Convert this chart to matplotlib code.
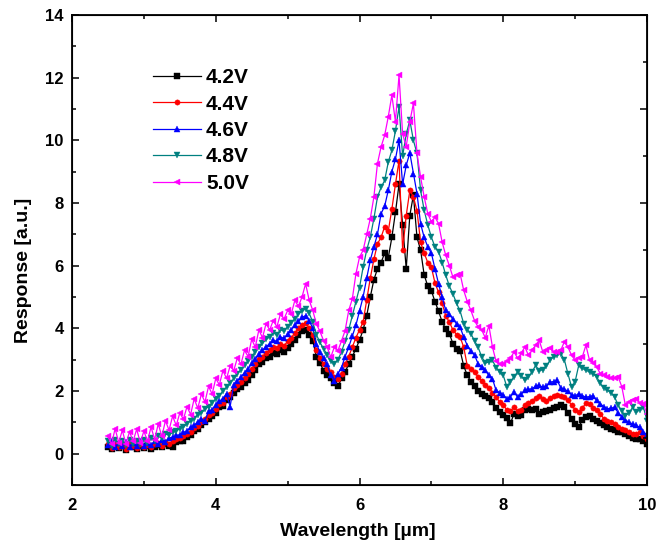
import numpy as np
import matplotlib
matplotlib.use("Agg")
import matplotlib.pyplot as plt
from matplotlib.ticker import MultipleLocator

plt.rcParams['font.family'] = ['Liberation Sans', 'DejaVu Sans']
plt.rcParams['font.weight'] = 'bold'

# Wavelength grid (µm), 0.05 µm step from 2.5 to 10.0
wavelength = np.round(np.arange(2.5, 10.0001, 0.05), 2)

resp_42 = [
    0.22, 0.15, 0.30, 0.18, 0.25, 0.12, 0.28, 0.20, 0.14, 0.26,
    0.18, 0.24, 0.15, 0.22, 0.28, 0.20, 0.30, 0.25, 0.22, 0.38,
    0.42, 0.40, 0.52, 0.60, 0.72, 0.78, 0.92, 1.00, 1.12, 1.20,
    1.30, 1.48, 1.52, 1.70, 1.80, 1.95, 2.05, 2.12, 2.25, 2.35,
    2.52, 2.68, 2.85, 2.92, 3.05, 3.10, 3.22, 3.18, 3.30, 3.25,
    3.38, 3.50, 3.62, 3.80, 3.90, 3.95, 3.80, 3.60, 3.10, 2.90,
    2.65, 2.52, 2.42, 2.25, 2.15, 2.40, 2.62, 2.85, 3.10, 3.35,
    3.62, 3.95, 4.40, 5.00, 5.55, 5.90, 6.10, 6.40, 6.25, 6.90,
    7.70, 8.60, 7.30, 5.90, 7.60, 8.25, 6.90, 6.50, 5.70, 5.35,
    5.20, 4.85, 4.55, 4.20, 3.98, 3.83, 3.51, 3.35, 3.29, 2.80,
    2.50, 2.30, 2.15, 2.00, 1.92, 1.85, 1.78, 1.65, 1.45, 1.32,
    1.25, 1.15, 0.97, 1.27, 1.20, 1.22, 1.40, 1.43, 1.38, 1.42,
    1.28, 1.32, 1.37, 1.40, 1.45, 1.50, 1.55, 1.48, 1.30, 1.12,
    0.95, 0.84, 1.08, 1.18, 1.20, 1.12, 1.05, 0.97, 0.90, 0.84,
    0.78, 0.74, 0.70, 0.68, 0.62, 0.57, 0.50, 0.47, 0.48, 0.42,
    0.32,
]

resp_44 = [
    0.30, 0.18, 0.35, 0.22, 0.30, 0.16, 0.32, 0.24, 0.18, 0.30,
    0.22, 0.28, 0.20, 0.30, 0.34, 0.26, 0.36, 0.32, 0.40, 0.48,
    0.50, 0.55, 0.62, 0.70, 0.82, 0.88, 1.02, 1.10, 1.22, 1.30,
    1.42, 1.58, 1.62, 1.82, 1.90, 2.08, 2.20, 2.30, 2.42, 2.55,
    2.70, 2.85, 3.02, 3.10, 3.22, 3.30, 3.40, 3.38, 3.50, 3.45,
    3.58, 3.70, 3.85, 4.00, 4.12, 4.18, 4.00, 3.78, 3.30, 3.05,
    2.85, 2.70, 2.60, 2.45, 2.38, 2.55, 2.85, 3.10, 3.40, 3.70,
    3.95, 4.20, 4.90, 5.60, 6.20, 6.70, 6.90, 7.25, 7.10, 7.80,
    8.60, 9.35, 6.50, 7.60, 8.40, 8.20, 7.75, 6.75, 6.40, 6.10,
    5.95, 5.45, 5.15, 4.80, 4.40, 4.20, 3.95, 3.80, 3.72, 3.40,
    2.80, 2.70, 2.60, 2.45, 2.33, 2.20, 2.10, 1.95, 1.80, 1.65,
    1.55, 1.40, 1.37, 1.48, 1.35, 1.38, 1.55, 1.62, 1.68, 1.78,
    1.85, 1.75, 1.69, 1.78, 1.85, 1.88, 1.85, 1.80, 1.70, 1.55,
    1.40, 1.32, 1.45, 1.62, 1.58, 1.45, 1.38, 1.27, 1.12, 1.05,
    1.00, 0.95, 0.86, 0.80, 0.75, 0.70, 0.64, 0.62, 0.68, 0.55,
    0.47,
]

resp_46 = [
    0.28, 0.40, 0.20, 0.35, 0.25, 0.38, 0.20, 0.33, 0.26, 0.40,
    0.24, 0.35, 0.28, 0.40, 0.32, 0.45, 0.38, 0.50, 0.52, 0.58,
    0.60, 0.68, 0.72, 0.85, 0.90, 1.02, 1.10, 1.05, 1.35, 1.40,
    1.55, 1.68, 1.75, 1.92, 1.50, 2.20, 2.32, 2.45, 2.58, 2.70,
    2.88, 3.02, 3.18, 3.30, 3.42, 3.50, 3.62, 3.58, 3.72, 3.68,
    3.82, 3.95, 4.10, 4.22, 4.35, 4.40, 4.25, 4.00, 3.50, 3.25,
    3.05, 2.85, 2.50, 2.33, 2.55, 2.75, 3.10, 3.40, 3.75, 4.10,
    4.55, 5.00, 5.60, 6.17, 6.60, 7.00, 7.66, 7.90, 8.40, 9.00,
    9.40, 10.00, 8.60, 9.20, 9.60, 8.94, 8.30, 7.34, 6.90, 6.60,
    6.40, 5.90, 5.42, 5.00, 4.57, 4.45, 4.30, 4.15, 4.04, 3.72,
    3.45, 3.28, 3.15, 2.87, 2.78, 2.66, 2.50, 2.39, 2.02, 1.95,
    1.88, 1.75, 1.82, 1.96, 1.81, 1.90, 2.02, 2.05, 2.07, 2.15,
    2.18, 2.12, 2.15, 2.28, 2.30, 2.34, 2.10, 2.05, 2.00, 1.88,
    1.85, 1.91, 1.85, 1.80, 1.82, 1.85, 1.70, 1.59, 1.50, 1.43,
    1.45, 1.48, 1.30, 1.18, 1.08, 1.00, 0.95, 0.90, 0.84, 0.70,
    0.60,
]

resp_48 = [
    0.40, 0.25, 0.45, 0.30, 0.42, 0.28, 0.45, 0.32, 0.40, 0.30,
    0.45, 0.35, 0.50, 0.40, 0.55, 0.50, 0.62, 0.60, 0.68, 0.72,
    0.80, 0.85, 0.95, 1.05, 1.12, 1.25, 1.30, 1.42, 1.50, 1.62,
    1.75, 1.85, 2.00, 2.12, 2.25, 2.40, 2.55, 2.68, 2.82, 2.95,
    3.10, 3.25, 3.40, 3.52, 3.65, 3.72, 3.85, 3.80, 3.95, 3.92,
    4.05, 4.18, 4.30, 4.45, 4.55, 4.62, 4.48, 4.20, 3.80, 3.55,
    3.35, 3.15, 2.95, 2.87, 3.00, 3.25, 3.60, 3.95, 4.40, 4.85,
    5.30, 5.95, 6.50, 6.91, 7.50, 8.19, 8.50, 8.72, 9.30, 9.68,
    10.30, 11.07, 9.50, 10.20, 10.64, 10.00, 9.58, 8.40, 7.77, 7.30,
    6.91, 6.60, 6.45, 6.10, 5.70, 5.35, 5.10, 4.80, 4.55, 4.15,
    3.95, 3.83, 3.60, 3.40, 3.09, 2.90, 2.92, 2.98, 2.75, 2.60,
    2.50, 2.13, 2.30, 2.45, 2.61, 2.48, 2.34, 2.45, 2.60, 2.82,
    2.65, 2.68, 2.80, 2.98, 3.10, 3.14, 3.19, 3.00, 2.55, 2.13,
    2.30, 2.82, 2.72, 2.66, 2.61, 2.55, 2.45, 2.24, 2.10, 2.02,
    1.95, 1.80, 1.55, 1.35, 1.21, 1.30, 1.48, 1.32, 1.40, 1.48,
    1.05,
]

resp_50 = [
    0.55, 0.30, 0.80, 0.35, 0.75, 0.30, 0.70, 0.40, 0.78, 0.35,
    0.72, 0.40, 0.85, 0.45, 0.95, 0.55, 1.05, 0.75, 1.20, 0.90,
    1.30, 1.10, 1.50, 1.25, 1.75, 1.45, 1.90, 1.65, 2.15, 1.90,
    2.40, 2.20, 2.65, 2.40, 2.80, 2.65, 3.05, 2.85, 3.30, 3.10,
    3.65, 3.40, 3.95, 3.70, 4.15, 3.95, 4.25, 4.05, 4.45, 4.30,
    4.57, 4.45, 4.89, 4.70, 5.00, 5.42, 4.90, 4.57, 4.14, 3.90,
    3.61, 3.40, 3.08, 3.40, 3.29, 3.60, 3.93, 4.57, 4.94, 5.74,
    6.27, 6.49, 7.00, 7.50, 8.19, 9.26, 9.79, 10.16, 10.75, 11.44,
    10.60, 12.08, 10.20, 9.80, 10.59, 11.18, 9.58, 8.83, 8.19, 7.66,
    7.40, 7.55, 7.34, 6.75, 6.33, 6.00, 5.63, 5.70, 5.74, 5.21,
    4.85, 4.57, 4.25, 4.04, 3.95, 3.70, 4.09, 3.40, 2.95, 2.85,
    2.87, 2.95, 3.04, 3.25, 3.04, 3.20, 3.41, 3.14, 3.30, 3.46,
    3.62, 3.25, 3.30, 3.36, 3.25, 3.25, 3.30, 3.57, 3.40, 3.14,
    2.98, 3.05, 3.09, 3.46, 2.98, 2.90, 2.77, 2.55, 2.50, 2.45,
    2.40, 2.42, 2.45, 2.13, 1.54, 1.65, 1.70, 1.75, 1.62, 1.59,
    1.27,
]

labels = ['4.2V', '4.4V', '4.6V', '4.8V', '5.0V']
series = [resp_42, resp_44, resp_46, resp_48, resp_50]
colors = ['#000000', '#FF0000', '#0000FF', '#008080', '#FF00FF']
markers = ['s', 'o', '^', 'v', '<']

fig = plt.figure(figsize=(6.58, 5.52), dpi=100)
ax = fig.add_axes([72 / 658, 1 - 485 / 552, (647 - 72) / 658, (485 - 15) / 552])

for y, lab, c, m in zip(series, labels, colors, markers):
    ax.plot(wavelength, y, color=c, marker=m, markersize=3.8, linewidth=0.9,
            markeredgewidth=0.3, label=lab)

ax.set_xlim(2, 10)
ax.set_ylim(-1, 14)
ax.xaxis.set_major_locator(MultipleLocator(2))
ax.xaxis.set_minor_locator(MultipleLocator(1))
ax.yaxis.set_major_locator(MultipleLocator(2))
ax.yaxis.set_minor_locator(MultipleLocator(1))
ax.tick_params(which='both', direction='in', top=True, right=False,
               width=1.1, labelsize=12)
ax.tick_params(axis='x', which='both', pad=9)
ax.tick_params(axis='y', which='both', pad=6)
ax.tick_params(which='major', length=5)
ax.tick_params(which='minor', length=3)
for lbl in ax.get_xticklabels() + ax.get_yticklabels():
    lbl.set_fontweight('bold')
for s in ax.spines.values():
    s.set_linewidth(1.3)

# right-hand frame axis with its own tick division
rax = ax.twinx()
rax.set_ylim(0, 10)
rax.yaxis.set_major_locator(MultipleLocator(2))
rax.yaxis.set_minor_locator(MultipleLocator(1))
rax.tick_params(which='both', direction='in', labelright=False, width=1.1)
rax.tick_params(which='major', length=5)
rax.tick_params(which='minor', length=3)

ax.set_xlabel('Wavelength [µm]', fontsize=14, fontweight='bold')
ax.set_ylabel('Response [a.u.]', fontsize=14, fontweight='bold')
ax.xaxis.set_label_coords(0.4965, -(532 - 485) / 470, transform=ax.transAxes)
ax.yaxis.set_label_coords(-(72 - 24) / 575, (485 - 270) / 470, transform=ax.transAxes)
ax.xaxis.label.set_verticalalignment('center')
ax.yaxis.label.set_verticalalignment('center')

leg = ax.legend(loc='upper left', bbox_to_anchor=(153 / 658, 1 - 68 / 552),
                bbox_transform=fig.transFigure, frameon=False, numpoints=1,
                handlelength=2.3, handletextpad=0.25, labelspacing=0.36,
                borderpad=0, borderaxespad=0,
                prop={'size': 15, 'weight': 'bold'})

fig.savefig('out.png', dpi=100)
